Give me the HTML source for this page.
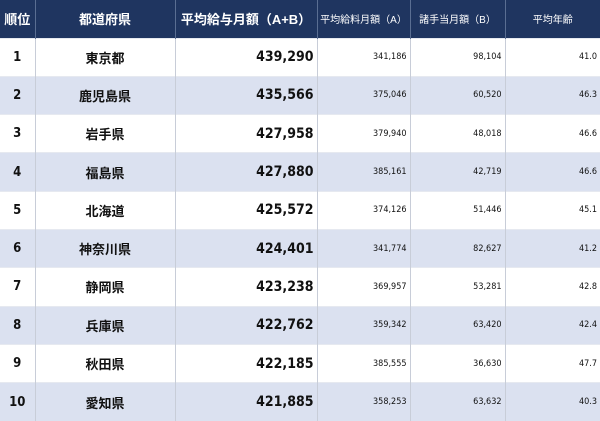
<!DOCTYPE html>
<html><head><meta charset="utf-8"><style>
*{margin:0;padding:0;box-sizing:border-box}
body{width:600px;height:421px;overflow:hidden;background:#fff;font-family:"DejaVu Sans Condensed","Liberation Sans","Noto Sans CJK JP",sans-serif;color:#111}
table{border-collapse:collapse;width:600px;table-layout:fixed}
th{background:#1f3560;color:#fff;font-weight:bold;height:38px;font-size:13px;border-left:1px solid #5a6e92;font-family:"Liberation Sans","Noto Sans CJK JP",sans-serif}
th.s{font-size:10px;font-weight:normal}
td{height:38.3px;border-left:1px solid #c8cdd8;border-top:1px solid #e6e9f0;font-size:13px;font-weight:bold;text-align:center}
tr:nth-child(odd) td{background:#dbe1f0}
td.n{text-align:right;padding-right:3px;font-size:14px;font-weight:bold}
td.m{text-align:right;padding-right:3px;font-size:9px;font-weight:normal}
td.p{font-family:"Liberation Sans","Noto Sans CJK JP",sans-serif;font-weight:bold;font-size:13px}
td:first-child,th:first-child{border-left:none}
</style></head><body>
<table>
<colgroup><col style="width:35px"><col style="width:140px"><col style="width:142px"><col style="width:93px"><col style="width:95px"><col style="width:95px"></colgroup>
<tr><th>順位</th><th>都道府県</th><th>平均給与月額（A+B）</th><th class="s">平均給料月額（A）</th><th class="s">諸手当月額（B）</th><th class="s">平均年齢</th></tr>
<tr><td>1</td><td class="p">東京都</td><td class="n">439,290</td><td class="m">341,186</td><td class="m">98,104</td><td class="m">41.0</td></tr>
<tr><td>2</td><td class="p">鹿児島県</td><td class="n">435,566</td><td class="m">375,046</td><td class="m">60,520</td><td class="m">46.3</td></tr>
<tr><td>3</td><td class="p">岩手県</td><td class="n">427,958</td><td class="m">379,940</td><td class="m">48,018</td><td class="m">46.6</td></tr>
<tr><td>4</td><td class="p">福島県</td><td class="n">427,880</td><td class="m">385,161</td><td class="m">42,719</td><td class="m">46.6</td></tr>
<tr><td>5</td><td class="p">北海道</td><td class="n">425,572</td><td class="m">374,126</td><td class="m">51,446</td><td class="m">45.1</td></tr>
<tr><td>6</td><td class="p">神奈川県</td><td class="n">424,401</td><td class="m">341,774</td><td class="m">82,627</td><td class="m">41.2</td></tr>
<tr><td>7</td><td class="p">静岡県</td><td class="n">423,238</td><td class="m">369,957</td><td class="m">53,281</td><td class="m">42.8</td></tr>
<tr><td>8</td><td class="p">兵庫県</td><td class="n">422,762</td><td class="m">359,342</td><td class="m">63,420</td><td class="m">42.4</td></tr>
<tr><td>9</td><td class="p">秋田県</td><td class="n">422,185</td><td class="m">385,555</td><td class="m">36,630</td><td class="m">47.7</td></tr>
<tr><td>10</td><td class="p">愛知県</td><td class="n">421,885</td><td class="m">358,253</td><td class="m">63,632</td><td class="m">40.3</td></tr>
</table>
</body></html>
